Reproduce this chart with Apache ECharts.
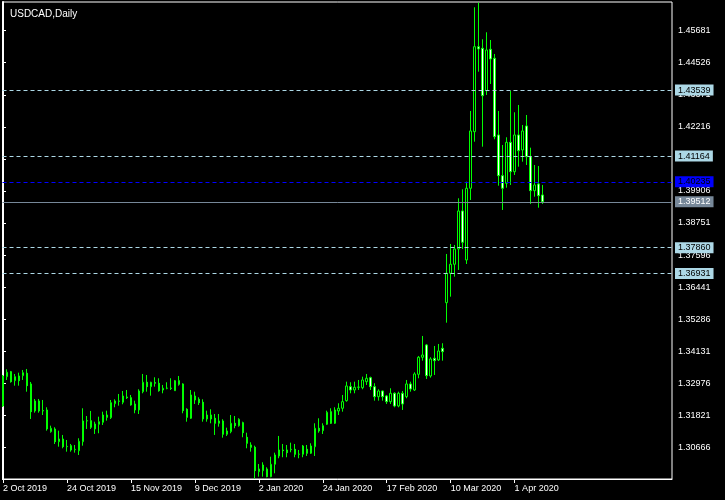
<!DOCTYPE html>
<html><head><meta charset="utf-8">
<script src="https://cdn.jsdelivr.net/npm/echarts@6/dist/echarts.min.js"></script>
<style>html,body{margin:0;padding:0;background:#000;}#c{width:725px;height:500px;}</style>
</head><body><div id="c"></div>
<script>
const chartTitle = 'USDCAD,Daily';
const opens = [1.32156,1.33212,1.33392,1.33068,1.33237,1.33248,1.33334,1.32949,1.31976,1.32336,
1.31976,1.32012,1.31230,1.31327,1.30869,1.30966,1.30689,1.30725,1.30580,1.30545,
1.30869,1.31615,1.31626,1.31327,1.31496,1.31568,1.31831,1.31734,1.32239,1.32336,
1.32289,1.32480,1.32455,1.32228,1.32012,1.32671,1.33010,1.32851,1.33000,1.32974,
1.32732,1.32794,1.32800,1.32707,1.33068,1.32949,1.32037,1.31712,1.32516,1.32397,
1.32289,1.31687,1.31831,1.31712,1.31532,1.31615,1.31136,1.31230,1.31532,1.31446,
1.31554,1.31028,1.30750,1.30667,1.29788,1.29824,1.29885,1.29608,1.30055,1.30354,
1.30570,1.30570,1.30580,1.30595,1.30415,1.30415,1.30595,1.30451,1.30689,1.31352,
1.31266,1.31496,1.31950,1.31532,1.31976,1.32073,1.32347,1.32851,1.32732,1.32830,
1.32815,1.33032,1.33176,1.32851,1.32491,1.32696,1.32516,1.32311,1.32613,1.32156,
1.32613,1.32491,1.32949,1.32732,1.33298,1.33911,1.34354,1.33237,1.33875,1.33814,
1.34235,1.35879,1.36938,1.37263,1.37814,1.39184,1.37418,1.40002,1.42042,1.45105,
1.45047,1.43519,1.45011,1.44687,1.41923,1.40456,1.40182,1.41659,1.40600,1.41923,
1.41382,1.42247,1.41141,1.39915,1.40157,1.39760];
const highs = [1.33273,1.33478,1.33417,1.33309,1.33356,1.33453,1.33489,1.33021,1.32408,1.32408,
1.32372,1.32109,1.31446,1.31388,1.31266,1.31111,1.30930,1.30786,1.30750,1.30992,
1.32073,1.31795,1.31976,1.31590,1.31770,1.31950,1.31986,1.32372,1.32397,1.32588,
1.32696,1.32732,1.32552,1.32347,1.32758,1.33309,1.33273,1.33030,1.33190,1.33154,
1.32913,1.33010,1.33154,1.33093,1.33237,1.32974,1.32073,1.32732,1.32671,1.32469,
1.32397,1.31986,1.32037,1.31867,1.31867,1.31676,1.31374,1.31831,1.31795,1.31712,
1.31590,1.31193,1.30847,1.30725,1.30065,1.30127,1.29946,1.30328,1.30473,1.31075,
1.30786,1.30750,1.30833,1.30786,1.30570,1.30750,1.30750,1.30811,1.31532,1.31712,
1.31532,1.31986,1.32073,1.32109,1.32253,1.32552,1.33032,1.33010,1.33032,1.33093,
1.33212,1.33309,1.33212,1.32974,1.32758,1.32710,1.32552,1.32794,1.32649,1.32671,
1.32696,1.33093,1.33032,1.33370,1.33958,1.34679,1.34390,1.33911,1.34318,1.34390,
1.34416,1.37634,1.37994,1.37958,1.39641,1.39966,1.40240,1.42788,1.46525,1.46691,
1.45372,1.45624,1.45346,1.44842,1.42788,1.41562,1.41840,1.43508,1.42741,1.43004,
1.42283,1.42643,1.41465,1.40841,1.40805,1.40121];
const lows = [1.32120,1.33093,1.32996,1.32887,1.32887,1.33093,1.32671,1.31687,1.31914,1.31914,
1.31831,1.31266,1.31193,1.30786,1.30689,1.30631,1.30509,1.30509,1.30473,1.30390,
1.30725,1.31327,1.31327,1.31147,1.31172,1.31471,1.31626,1.31687,1.32109,1.32167,
1.32217,1.32408,1.32167,1.31893,1.31867,1.32613,1.32671,1.32527,1.32851,1.32671,
1.32613,1.32758,1.32732,1.32700,1.32887,1.31893,1.31590,1.31687,1.32228,1.32192,
1.31590,1.31590,1.31532,1.31111,1.31410,1.31013,1.31075,1.31172,1.31352,1.31410,
1.31028,1.30631,1.30509,1.29540,1.29608,1.29608,1.29586,1.29586,1.29730,1.30271,
1.30307,1.30307,1.30487,1.30307,1.30271,1.30307,1.30354,1.30426,1.30354,1.31193,
1.31147,1.31471,1.31507,1.31507,1.31831,1.31950,1.32311,1.32613,1.32613,1.32732,
1.32758,1.32913,1.32732,1.32347,1.32347,1.32347,1.32228,1.32228,1.32109,1.32109,
1.32012,1.32433,1.32671,1.32696,1.33154,1.33788,1.33129,1.33176,1.33273,1.33778,
1.33788,1.35158,1.36095,1.36816,1.37057,1.37814,1.37273,1.39580,1.41681,1.44204,
1.41501,1.43364,1.43761,1.41768,1.40095,1.39220,1.40023,1.40121,1.40481,1.40780,
1.40960,1.40841,1.39436,1.39699,1.39302,1.39436];
const closes = [1.33237,1.33370,1.33032,1.33212,1.33068,1.33356,1.32887,1.31950,1.32336,1.31976,
1.31990,1.31327,1.31352,1.30869,1.30966,1.30689,1.30700,1.30570,1.30595,1.30884,
1.31615,1.31626,1.31388,1.31507,1.31590,1.31831,1.31748,1.32275,1.32336,1.32325,
1.32516,1.32455,1.32192,1.32012,1.32696,1.33010,1.32851,1.33010,1.32974,1.32707,
1.32794,1.32800,1.32790,1.33068,1.32938,1.31986,1.31748,1.32552,1.32372,1.32275,
1.31687,1.31831,1.31687,1.31532,1.31615,1.31136,1.31255,1.31532,1.31446,1.31676,
1.31193,1.30811,1.30667,1.29824,1.29885,1.30029,1.29608,1.30055,1.30390,1.30570,
1.30545,1.30473,1.30595,1.30415,1.30420,1.30714,1.30451,1.30714,1.31352,1.31255,
1.31446,1.31929,1.31532,1.32012,1.32073,1.32311,1.32877,1.32732,1.32830,1.32836,
1.33093,1.33154,1.32851,1.32491,1.32696,1.32491,1.32311,1.32613,1.32156,1.32613,
1.32228,1.32949,1.32768,1.33309,1.33911,1.33994,1.33248,1.33850,1.33788,1.34138,
1.34113,1.36938,1.37263,1.37814,1.39184,1.38055,1.40002,1.42067,1.45105,1.45022,
1.43339,1.44986,1.44662,1.41861,1.40456,1.40002,1.41659,1.40600,1.41923,1.41357,
1.42067,1.41141,1.39915,1.40121,1.39735,1.39512];
const dateTickIndex = [0,16,32,48,64,80,96,112,128];
const dateTickLabels = ['2 Oct 2019','24 Oct 2019','15 Nov 2019','9 Dec 2019','2 Jan 2020','24 Jan 2020','17 Feb 2020','10 Mar 2020','1 Apr 2020'];
const priceTicks = [1.30666,1.31821,1.32976,1.34131,1.35286,1.36441,1.37596,1.38751,1.39906,1.41061,1.42216,1.43371,1.44526,1.45681];
const levelLines = [1.43539,1.41164,1.37860,1.36931];
const blueLevel = 1.40235;
const bidLevel = 1.39512;
const priceMin = 1.29524, priceMax = 1.46715;

const FONT = 'Liberation Sans';
const candles = opens.map((o, i) => [i, o, closes[i], lows[i], highs[i]]);

function lineLabel(bg, fg) {
  return {
    show: true, position: 'end', distance: 3,
    formatter: p => Number(p.value).toFixed(5),
    backgroundColor: bg, color: fg, fontFamily: FONT, fontSize: 9,
    lineHeight: 10, padding: [1, 3, 0, 3], borderRadius: 0
  };
}
const markData = levelLines.map(v => ({
  yAxis: v,
  lineStyle: { color: '#add8e6', type: [4, 3], width: 1 },
  label: lineLabel('#add8e6', '#000')
}));
markData.push({ yAxis: blueLevel, lineStyle: { color: '#0000ff', type: [4, 3], width: 1 }, label: lineLabel('#0000ff', '#000') });
markData.push({ yAxis: bidLevel, lineStyle: { color: '#778899', type: 'solid', width: 1 }, label: lineLabel('#778899', '#fff') });

const chart = echarts.init(document.getElementById('c'), null, { renderer: 'canvas' });
chart.setOption({
  backgroundColor: '#000',
  animation: false,
  textStyle: { fontFamily: FONT },
  title: {
    text: chartTitle, left: 5, top: 4,
    textStyle: { color: '#fff', fontSize: 10, fontWeight: 'normal', fontFamily: FONT }
  },
  grid: { left: 2, right: 53, top: 2, bottom: 21, show: true, borderColor: '#fff', borderWidth: 1, backgroundColor: '#000' },
  xAxis: {
    type: 'value', min: -0.125, max: 167.375,
    axisLine: { show: true, lineStyle: { color: '#fff', width: 1 } },
    axisTick: { show: true, customValues: dateTickIndex, length: 4, lineStyle: { color: '#fff' } },
    axisLabel: {
      show: true, customValues: dateTickIndex, color: '#fff', fontSize: 9, fontFamily: FONT,
      align: 'left', margin: 5,
      formatter: v => dateTickLabels[dateTickIndex.indexOf(Math.round(v))] || ''
    },
    splitLine: { show: false }
  },
  yAxis: {
    type: 'value', position: 'right', min: priceMin, max: priceMax,
    axisLine: { show: true, lineStyle: { color: '#fff', width: 2 } },
    axisTick: { show: true, customValues: priceTicks, length: 3, lineStyle: { color: '#fff' } },
    axisLabel: {
      show: true, customValues: priceTicks, color: '#fff', fontSize: 9, fontFamily: FONT, margin: 6,
      formatter: v => v.toFixed(5)
    },
    splitLine: { show: false }
  },
  series: [{
    type: 'candlestick',
    data: candles,
    encode: { x: 0, y: [1, 2, 3, 4] },
    barWidth: 2,
    clip: true,
    itemStyle: {
      color: '#000', color0: '#fff',
      borderColor: '#00ff00', borderColor0: '#00ff00', borderColorDoji: '#00ff00', borderWidth: 1
    },
    markLine: {
      silent: true, symbol: 'none', animation: false, precision: 5,
      data: markData
    }
  }]
});
</script>
</body></html>
